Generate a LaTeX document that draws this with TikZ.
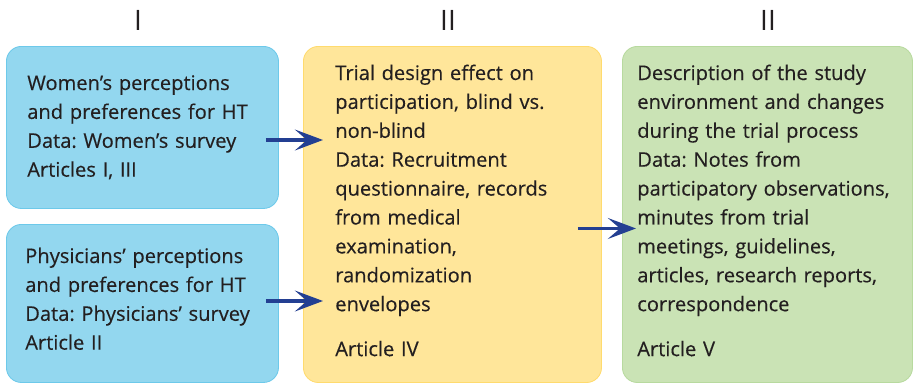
\documentclass[tikz,border=0pt]{standalone}
\usepackage{fontspec}
\setmainfont{Open Sans}
\newfontfamily\boxfont{Open Sans}[FakeBold=0.3]
\usetikzlibrary{positioning,arrows.meta}
\definecolor{hblue}{HTML}{93D7EF}
\definecolor{hblueline}{HTML}{6DC9EA}
\definecolor{hyellow}{HTML}{FFE69A}
\definecolor{hyellowline}{HTML}{FFDB6E}
\definecolor{hgreen}{HTML}{CAE3B5}
\definecolor{hgreenline}{HTML}{B8DA9F}
\definecolor{harrow}{HTML}{233F92}
\definecolor{htext}{HTML}{231F20}
\frenchspacing
\tikzstyle{box}=[rounded corners=0.375cm,line width=0.6pt,anchor=north west,inner sep=0pt]
\tikzstyle{txt}=[anchor=base west,align=left,inner sep=0pt,text=htext,text width=7cm,
  font=\boxfont\fontsize{14.3}{20.55}\selectfont]
\tikzstyle{hdr}=[anchor=base,inner sep=0pt,text=htext,font=\fontsize{20}{22}\selectfont]
\tikzstyle{arr}=[-{Stealth[length=0.7cm,width=0.52cm,inset=0.3cm]},draw=harrow,fill=harrow,line width=2.8pt]
\newcommand{\newBox}[5]{\node[box,#2,minimum width=#3,minimum height=#4](#1) at #5 {};}

\begin{document}
\begin{tikzpicture}[x=0.025cm,y=-0.025cm]
    \useasboundingbox (0,0) rectangle (913,383);
    % column headers
    \node[hdr] (h1) at (138,30) {I};
    \node[hdr] (h2) at (448,30) {II};
    \node[hdr] (h3) at (768,30) {II};
    % boxes
    \newBox{women}{fill=hblue,draw=hblueline}{6.8cm}{4.05cm}{(6,46)}
    \newBox{phys}{fill=hblue,draw=hblueline}{6.8cm}{3.95cm}{(6,224)}
    \newBox{trial}{fill=hyellow,draw=hyellowline}{7.45cm}{8.4cm}{(303,46)}
    \newBox{env}{fill=hgreen,draw=hgreenline}{7.25cm}{8.4cm}{(622,46)}
    % texts
    \node[txt] (womentxt) at (27,90) {Women’s perceptions\\and preferences for HT\\Data: Women’s survey\\Articles I, III};
    \node[txt] (phystxt) at (25,263) {Physicians’ perceptions\\and preferences for HT\\Data: Physicians’ survey\\Article II};
    \node[txt] (trialtxt) at (335,80) {Trial design effect on\\participation, blind vs.\\non-blind\\Data: Recruitment\\questionnaire, records\\from medical\\examination,\\randomization\\envelopes\\[0.4cm]Article IV};
    \node[txt] (envtxt) at (637,80) {Description of the study\\environment and changes\\during the trial process\\Data: Notes from\\participatory observations,\\minutes from trial\\meetings, guidelines,\\articles, research reports,\\correspondence\\[0.4cm]Article V};
    % arrows
    \draw[arr] ([shift={(-13,0)}]women.east |- 0,140) -- ([shift={(20,0)}]trial.west |- 0,140);
    \draw[arr] ([shift={(-13,0)}]phys.east |- 0,301) -- ([shift={(20,0)}]trial.west |- 0,301);
    \draw[arr] ([shift={(-24,14)}]trial.east) -- ([shift={(14,14)}]env.west);
\end{tikzpicture}
\end{document}
